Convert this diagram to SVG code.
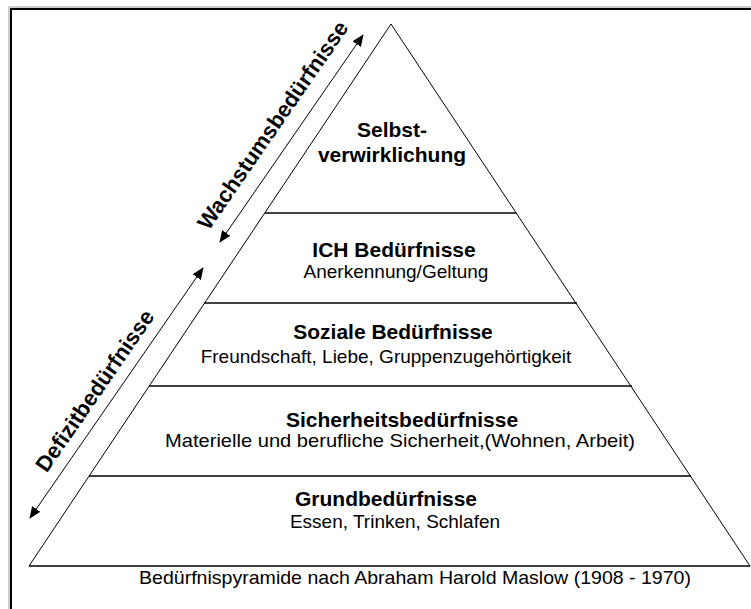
<svg xmlns="http://www.w3.org/2000/svg" width="751" height="609" viewBox="0 0 751 609">
<defs>
<style>
.b{font-family:"Liberation Sans",Arial,sans-serif;font-weight:bold;font-size:21px;fill:#000;text-anchor:middle}
.n{font-family:"Liberation Sans",Arial,sans-serif;font-size:19px;fill:#000;text-anchor:middle}
.r{font-family:"Liberation Sans",Arial,sans-serif;font-weight:bold;font-size:22px;fill:#000;text-anchor:middle}
.side{stroke:#000;stroke-width:1;fill:none}
.lvl{stroke:#000;stroke-width:1.6;fill:none}
.arr{stroke:#000;stroke-width:1;fill:none;marker-start:url(#ah);marker-end:url(#ah)}
</style>
<marker id="ah" viewBox="0 0 12 10" refX="11" refY="5" markerWidth="12" markerHeight="10" markerUnits="userSpaceOnUse" orient="auto-start-reverse">
<path d="M0,0 L12,5 L0,10 z" fill="#000"/>
</marker>
</defs>
<rect width="751" height="609" fill="#fff"/>
<g id="frame">
<path d="M9,609 V7 H751" stroke="#9a9a9a" stroke-width="1" fill="none"/>
<path d="M11,609 V9 H751" stroke="#000" stroke-width="2" fill="none"/>
</g>
<g id="pyramid">
<path class="side" d="M29,566 L391,24 L750,566"/>
<line class="lvl" x1="29" y1="566" x2="750" y2="566"/>
</g>
<g id="connectors">
<line class="arr" x1="220" y1="242" x2="363" y2="35"/>
<line class="arr" x1="30" y1="518" x2="203" y2="268"/>
</g>
<g id="label-wachstum">
<text class="r" x="279" y="129.5" transform="rotate(-55.4 279 129.5)">Wachstumsbedürfnisse</text>
</g>
<g id="label-defizit">
<text class="r" x="101" y="395" transform="rotate(-55.4 101 395)">Defizitbedürfnisse</text>
</g>
<g id="level-selbst">
<text class="b" x="392" y="137">Selbst-</text>
<text class="b" x="392" y="162">verwirklichung</text>
</g>
<g id="level-ich">
<line class="lvl" x1="265" y1="213" x2="516" y2="213"/>
<text class="b" x="394" y="257">ICH Bedürfnisse</text>
<text class="n" x="396" y="278">Anerkennung/Geltung</text>
</g>
<g id="level-sozial">
<line class="lvl" x1="204" y1="303" x2="577" y2="303"/>
<text class="b" x="393" y="339">Soziale Bedürfnisse</text>
<text class="n" x="386" y="363">Freundschaft, Liebe, Gruppenzugehörtigkeit</text>
</g>
<g id="level-sicherheit">
<line class="lvl" x1="149" y1="386" x2="632" y2="386"/>
<text class="b" x="402" y="427">Sicherheitsbedürfnisse</text>
<text class="n" x="400" y="447" textLength="470" lengthAdjust="spacingAndGlyphs">Materielle und berufliche Sicherheit,(Wohnen, Arbeit)</text>
</g>
<g id="level-grund">
<line class="lvl" x1="89" y1="476" x2="691" y2="476"/>
<text class="b" x="386" y="506">Grundbedürfnisse</text>
<text class="n" x="395" y="528">Essen, Trinken, Schlafen</text>
</g>
<g id="caption">
<text class="n" x="415" y="584" textLength="552" lengthAdjust="spacingAndGlyphs">Bedürfnispyramide nach Abraham Harold Maslow (1908 - 1970)</text>
</g>
</svg>
